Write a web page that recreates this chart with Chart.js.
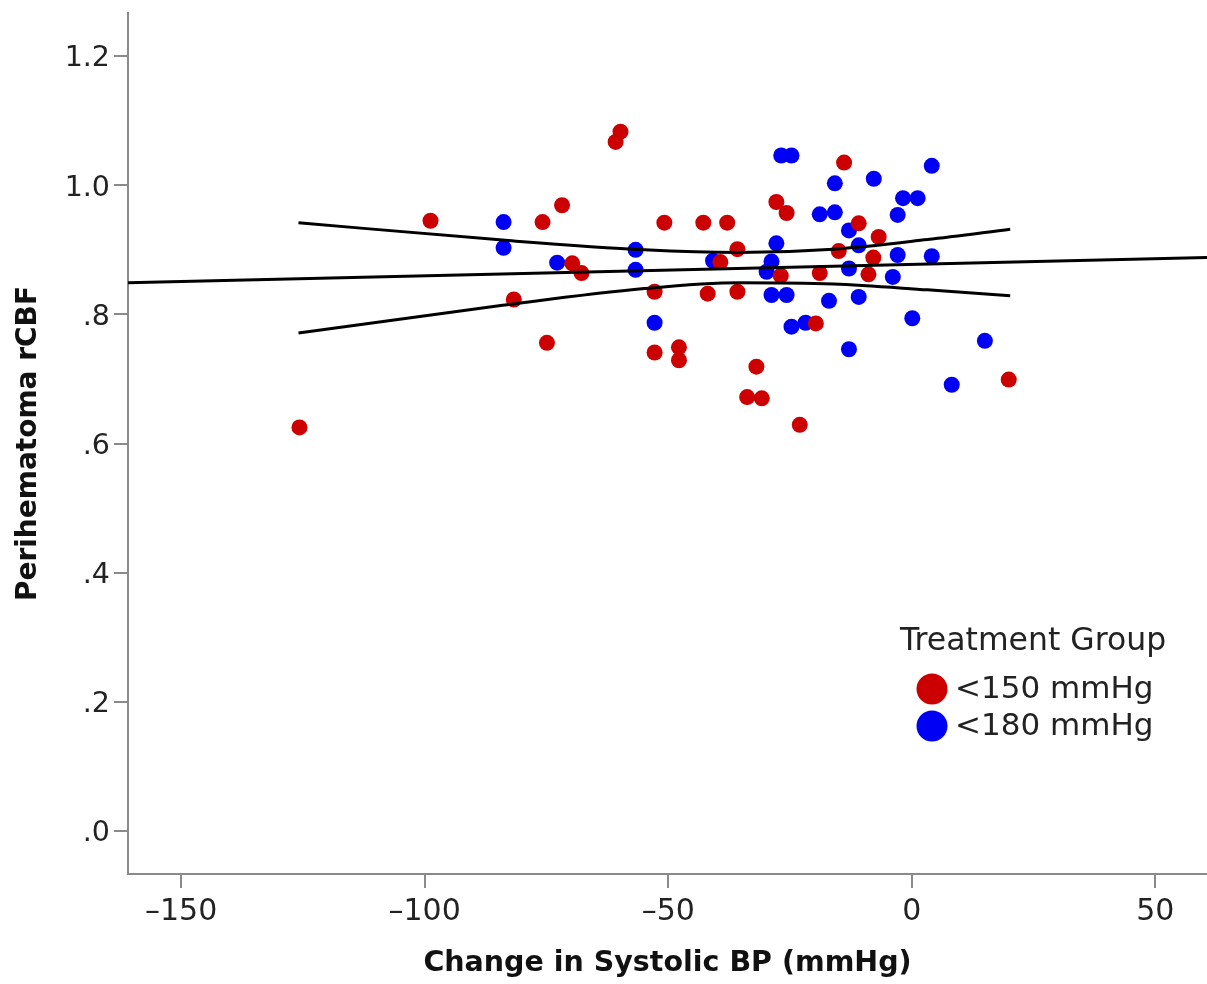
<!DOCTYPE html>
<html>
<head>
<meta charset="utf-8">
<script src="https://cdn.jsdelivr.net/npm/chart.js@4/dist/chart.umd.min.js"></script>
<style>
  html, body { margin: 0; padding: 0; background: #fff; }
  #wrap { width: 1207px; height: 984px; }
</style>
</head>
<body>
<div id="wrap"><canvas id="chart" width="1207" height="984"></canvas></div>
<script>
'use strict';

/* Data */
const groupNames = ['<150 mmHg', '<180 mmHg'];
const legendTitle = 'Treatment Group';
const xTitle = 'Change in Systolic BP (mmHg)';
const yTitle = 'Perihematoma rCBF';

const redX = [-125.7, -98.8, -81.7, -75.8, -74.9, -71.8, -69.7, -67.8, -60.8, -59.8,
  -50.8, -52.8, -52.8, -47.8, -47.8, -42.8, -41.9, -39.3, -37.9, -35.8,
  -35.8, -31.9, -33.8, -30.8, -27.8, -25.7, -26.9, -23.0, -19.7, -18.9,
  -13.9, -15.0, -10.9, -8.9, -7.9, -6.8, 19.9];
const redY = [0.625, 0.945, 0.823, 0.943, 0.756, 0.969, 0.879, 0.864, 1.067, 1.083,
  0.942, 0.835, 0.741, 0.749, 0.729, 0.942, 0.832, 0.881, 0.942, 0.901,
  0.835, 0.719, 0.672, 0.670, 0.974, 0.957, 0.860, 0.629, 0.786, 0.864,
  1.035, 0.898, 0.941, 0.862, 0.888, 0.920, 0.699];

const blueX = [-83.8, -83.8, -72.8, -56.7, -56.7, -52.8, -40.8, -27.8, -28.8, -29.8,
  -28.8, -25.7, -26.8, -24.7, -24.7, -21.8, -18.9, -15.8, -15.8, -17.0,
  -12.9, -12.9, -12.9, -10.9, -10.9, -7.8, -2.9, -1.8, 1.2, -2.9,
  -3.9, 0.1, 4.1, 4.1, 8.2, 15.0];
const blueY = [0.943, 0.903, 0.880, 0.900, 0.869, 0.787, 0.883, 0.910, 0.882, 0.866,
  0.830, 0.830, 1.046, 1.046, 0.781, 0.787, 0.955, 1.003, 0.958, 0.821,
  0.930, 0.871, 0.746, 0.907, 0.827, 1.010, 0.954, 0.980, 0.980, 0.892,
  0.858, 0.794, 1.030, 0.890, 0.691, 0.759];

/* Fit line and confidence band */
const fitX = [-160.9, 60.6];
const fitY = [0.849, 0.888];
const bandX = [-125.9, -84.0, -54.9, -35.5, -16.1, 3.2, 20.2];
const upperY = [0.942, 0.915, 0.900, 0.896, 0.901, 0.916, 0.932];
const lowerY = [0.771, 0.814, 0.840, 0.849, 0.847, 0.838, 0.829];

/* Axes */
const xMin = -160.9;
const xMax = 60.6;
const yMin = -0.0666;
const yMax = 1.2667;
const xTickValues = [-150, -100, -50, 0, 50];
const xTickLabels = ['–150', '–100', '–50', '0', '50'];
const yTickValues = [0, 0.2, 0.4, 0.6, 0.8, 1.0, 1.2];
const yTickLabels = ['.0', '.2', '.4', '.6', '.8', '1.0', '1.2'];

const RED = '#cc0000';
const BLUE = '#0000f5';
const AXIS_GREY = '#8a8a8a';
const FONT = '"DejaVu Sans", sans-serif';

function toPoints(xs, ys) {
  return xs.map((x, i) => ({ x: x, y: ys[i] }));
}

function lineDataset(xs, ys) {
  return {
    type: 'scatter',
    data: toPoints(xs, ys),
    showLine: true,
    borderColor: '#000',
    borderWidth: 3,
    pointRadius: 0,
    fill: false,
    cubicInterpolationMode: 'monotone',
    order: 0,
    isFit: true,
  };
}

/* Legend drawn inside the plot, like the original */
const insideLegend = {
  id: 'insideLegend',
  afterDraw(chart) {
    const ctx = chart.ctx;
    const groups = chart.data.datasets.filter((d) => !d.isFit);
    ctx.save();
    ctx.fillStyle = '#222';
    ctx.textAlign = 'left';
    ctx.textBaseline = 'middle';
    ctx.font = '31.5px ' + FONT;
    ctx.fillText(legendTitle, 900, 642);
    ctx.font = '31px ' + FONT;
    groups.forEach((g, i) => {
      const cy = 689 + i * 37;
      ctx.beginPath();
      ctx.arc(932, cy, 15.5, 0, Math.PI * 2);
      ctx.fillStyle = g.backgroundColor;
      ctx.fill();
      ctx.fillStyle = '#222';
      ctx.fillText(g.label, 955, cy + 1);
    });
    ctx.restore();
  },
};

const ctx = document.getElementById('chart').getContext('2d');

new Chart(ctx, {
  type: 'scatter',
  data: {
    datasets: [
      lineDataset(fitX, fitY),
      lineDataset(bandX, upperY),
      lineDataset(bandX, lowerY),
      {
        label: groupNames[0],
        data: toPoints(redX, redY),
        backgroundColor: RED,
        borderWidth: 0,
        pointRadius: 8,
        order: 1,
      },
      {
        label: groupNames[1],
        data: toPoints(blueX, blueY),
        backgroundColor: BLUE,
        borderWidth: 0,
        pointRadius: 8,
        order: 1,
      },
    ],
  },
  options: {
    responsive: false,
    animation: false,
    devicePixelRatio: 1,
    layout: { autoPadding: false, padding: { top: 13, right: 0, left: 0, bottom: 0 } },
    plugins: {
      legend: { display: false },
      tooltip: { enabled: false },
    },
    scales: {
      x: {
        type: 'linear',
        min: xMin,
        max: xMax,
        afterBuildTicks: (scale) => {
          scale.ticks = xTickValues.map((v) => ({ value: v }));
        },
        afterFit: (scale) => { scale.height = 110; },
        ticks: {
          color: '#222',
          font: { family: FONT, size: 30 },
          padding: 6,
          maxRotation: 0,
          callback: (value) => xTickLabels[xTickValues.indexOf(value)],
        },
        grid: {
          drawOnChartArea: false,
          drawTicks: true,
          tickLength: 14,
          color: AXIS_GREY,
          lineWidth: 2,
        },
        border: { color: AXIS_GREY, width: 2 },
        title: {
          display: true,
          text: xTitle,
          color: '#111',
          font: { family: FONT, size: 28.5, weight: 'bold' },
          padding: { top: 0, bottom: 3 },
        },
      },
      y: {
        type: 'linear',
        min: yMin,
        max: yMax,
        afterBuildTicks: (scale) => {
          scale.ticks = yTickValues.map((v) => ({ value: v }));
        },
        afterFit: (scale) => {
          scale.width = 128;
          // the top label sits well inside the axis, no extra room needed
          scale.paddingTop = 0;
          scale.paddingBottom = 0;
        },
        ticks: {
          color: '#222',
          font: { family: FONT, size: 28.5 },
          padding: 4,
          labelOffset: 3,
          callback: (value) => yTickLabels[yTickValues.findIndex((v) => Math.abs(v - value) < 1e-9)],
        },
        grid: {
          drawOnChartArea: false,
          drawTicks: true,
          tickLength: 14,
          color: AXIS_GREY,
          lineWidth: 2,
        },
        border: { color: AXIS_GREY, width: 2 },
        title: {
          display: true,
          text: yTitle,
          color: '#111',
          font: { family: FONT, size: 28, weight: 'bold' },
          padding: { top: 12, bottom: 0 },
        },
      },
    },
  },
  plugins: [insideLegend],
});
</script>
</body>
</html>
